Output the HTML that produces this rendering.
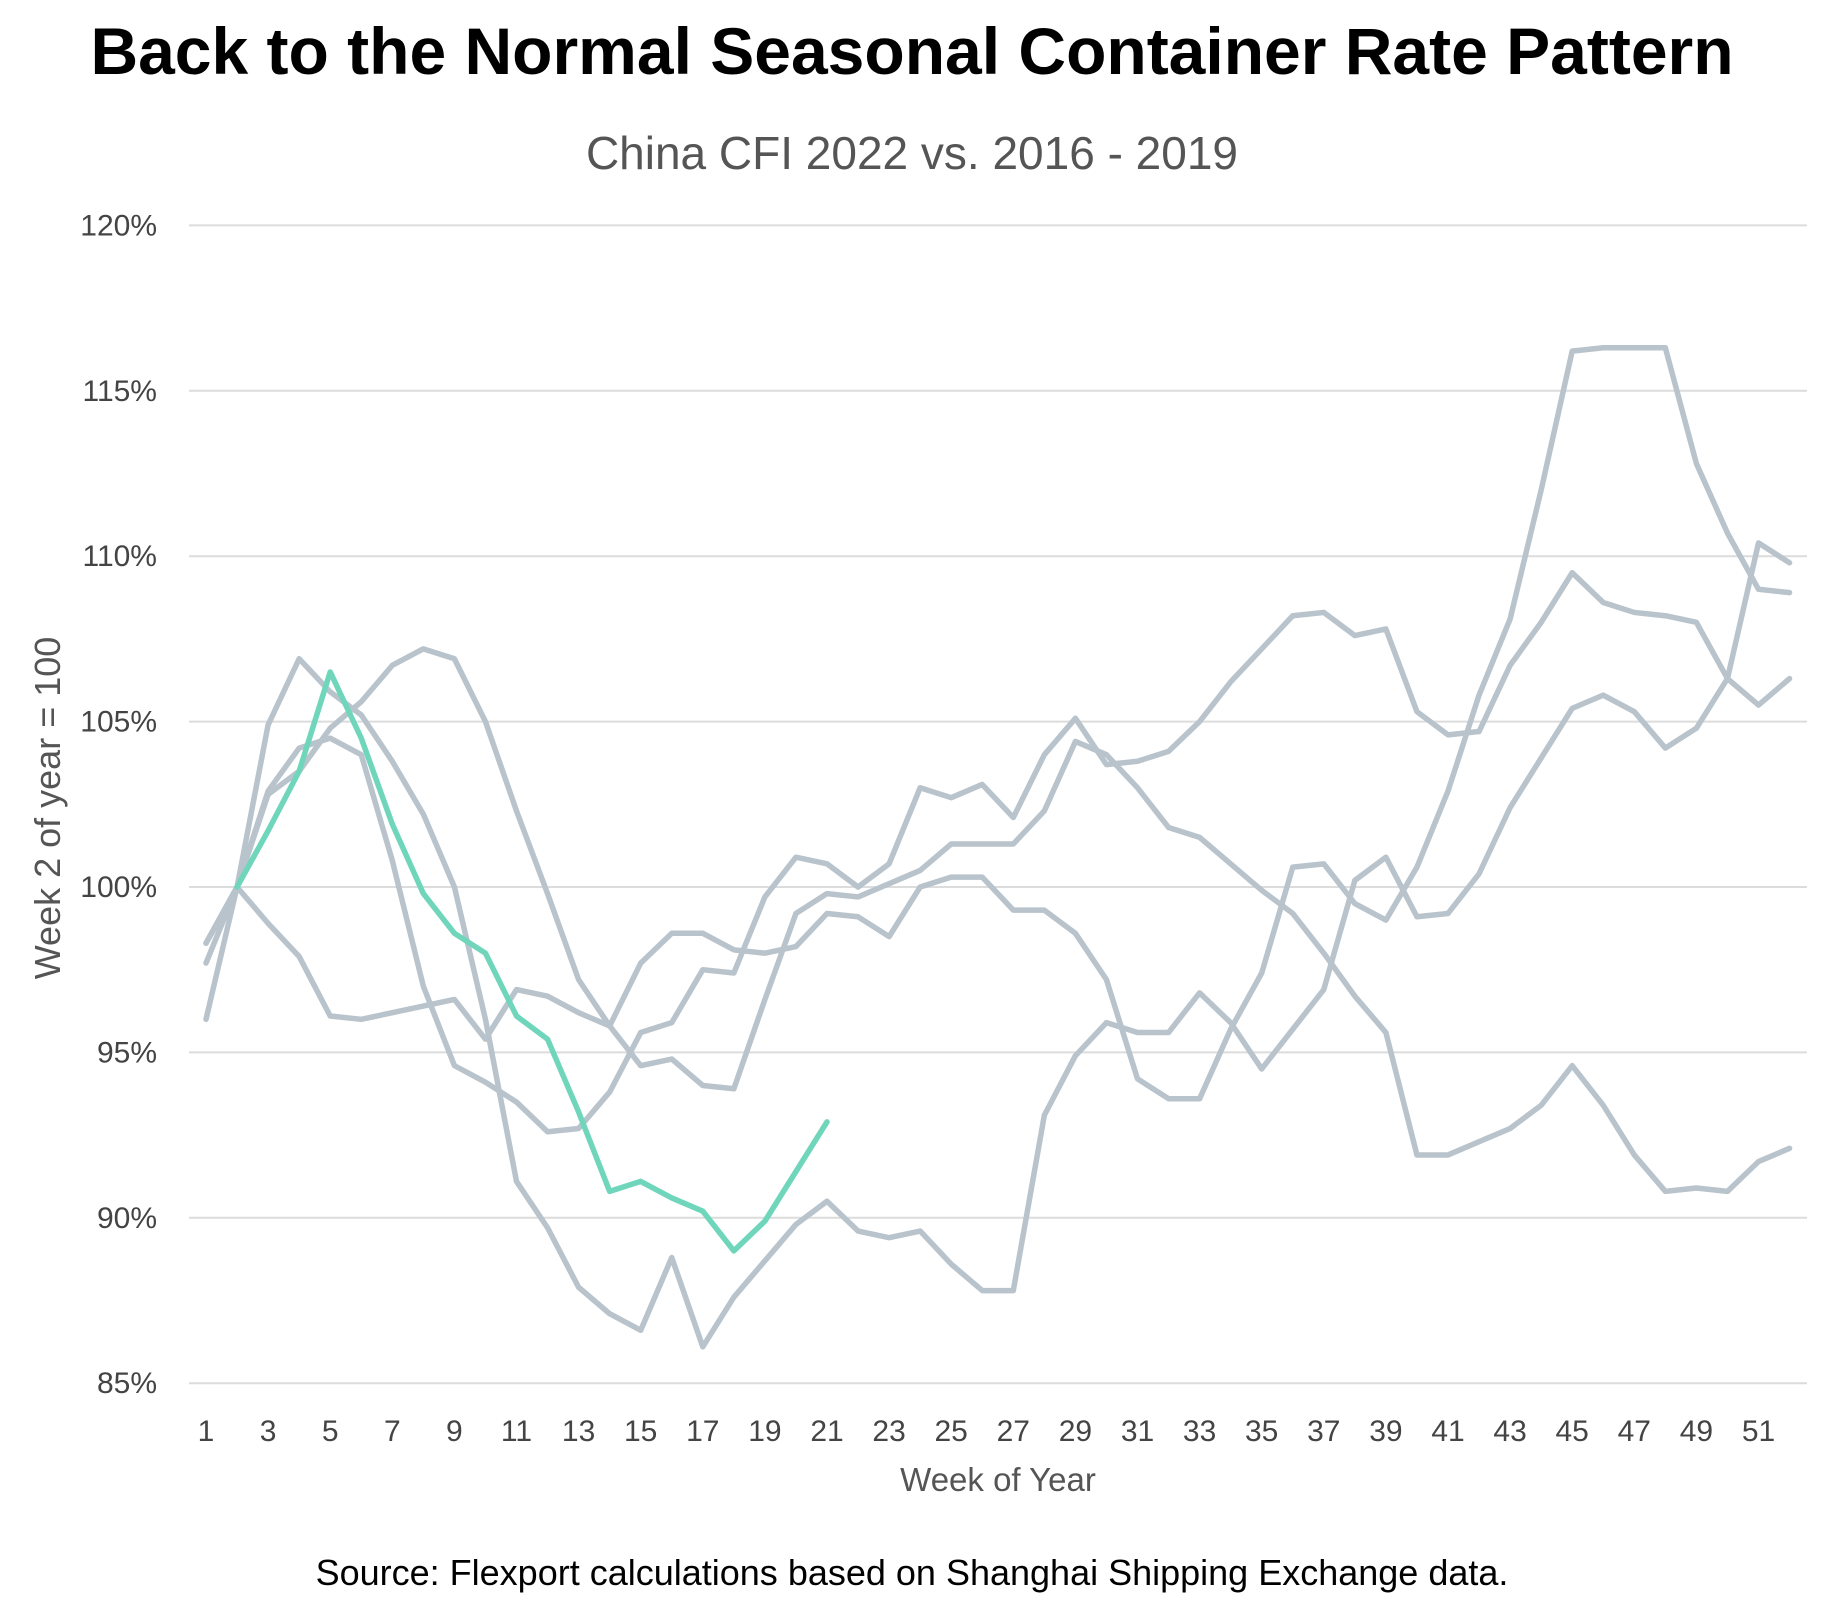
<!DOCTYPE html>
<html><head><meta charset="utf-8"><style>
html,body{margin:0;padding:0;background:#fff;}
svg{display:block;font-family:"Liberation Sans",sans-serif;}
</style></head><body>
<svg id="chart" width="1845" height="1598" viewBox="0 0 1845 1598" xmlns="http://www.w3.org/2000/svg">
<text x="912" y="74" text-anchor="middle" font-size="66" font-weight="bold" fill="#000">Back to the Normal Seasonal Container Rate Pattern</text>
<text x="912" y="169" text-anchor="middle" font-size="46" fill="#555">China CFI 2022 vs. 2016 - 2019</text>
<g id="grid"></g>
<g id="yticks"></g>
<g id="xticks"></g>
<g id="series"></g>
<text transform="translate(60,808) rotate(-90)" text-anchor="middle" font-size="36" fill="#555">Week 2 of year = 100</text>
<text x="998" y="1491" text-anchor="middle" font-size="33" fill="#555">Week of Year</text>
<text x="912" y="1585" text-anchor="middle" font-size="36" fill="#000">Source: Flexport calculations based on Shanghai Shipping Exchange data.</text>
</svg>
<script>
const yTicks = [85, 90, 95, 100, 105, 110, 115, 120];
const yTickLabels = ["85%", "90%", "95%", "100%", "105%", "110%", "115%", "120%"];
const xTickWeeks = [1,3,5,7,9,11,13,15,17,19,21,23,25,27,29,31,33,35,37,39,41,43,45,47,49,51];
const seriesA = [98.3,100,102.8,103.5,104.8,105.6,106.7,107.2,106.9,105,102.3,99.8,97.2,95.8,94.6,94.8,94,93.9,96.6,99.2,99.8,99.7,100.1,100.5,101.3,101.3,101.3,102.3,104.4,104,103,101.8,101.5,100.7,99.9,99.2,98,96.7,95.6,91.9,91.9,92.3,92.7,93.4,94.6,93.4,91.9,90.8,90.9,90.8,91.7,92.1];
const seriesB = [98.3,100,102.9,104.2,104.5,104,100.8,97,94.6,94.1,93.5,92.6,92.7,93.8,95.6,95.9,97.5,97.4,99.7,100.9,100.7,100,100.7,103,102.7,103.1,102.1,104,105.1,103.7,103.8,104.1,105,106.2,107.2,108.2,108.3,107.6,107.8,105.3,104.6,104.7,106.7,108,109.5,108.6,108.3,108.2,108,106.3,105.5,106.3];
const seriesC = [96,100,104.9,106.9,105.9,105.2,103.8,102.2,100,96,91.1,89.7,87.9,87.1,86.6,88.8,86.1,87.6,88.7,89.8,90.5,89.6,89.4,89.6,88.6,87.8,87.8,93.1,94.9,95.9,95.6,95.6,96.8,95.9,94.5,95.7,96.9,100.2,100.9,99.1,99.2,100.4,102.4,103.9,105.4,105.8,105.3,104.2,104.8,106.3,110.4,109.8];
const seriesD = [97.7,100,98.9,97.9,96.1,96,96.2,96.4,96.6,95.4,96.9,96.7,96.2,95.8,97.7,98.6,98.6,98.1,98,98.2,99.2,99.1,98.5,100,100.3,100.3,99.3,99.3,98.6,97.2,94.2,93.6,93.6,95.7,97.4,100.6,100.7,99.5,99,100.6,102.9,105.8,108.1,112,116.2,116.3,116.3,116.3,112.8,110.7,109,108.9];
const series2022Weeks = [2,3,4,5,6,7,8,9,10,11,12,13,14,15,16,17,18,19,20,21];
const series2022 = [100,101.7,103.5,106.5,104.5,101.9,99.8,98.6,98,96.1,95.4,93.2,90.8,91.1,90.6,90.2,89,89.9,91.4,92.9];

const NS = "http://www.w3.org/2000/svg";
const xScale = w => 206 + (w - 1) * 31.05;
const yScale = v => 887 - (v - 100) * 33.08;

const grid = document.getElementById('grid');
const yt = document.getElementById('yticks');
yTicks.forEach((t, i) => {
  const l = document.createElementNS(NS, 'line');
  
  
  l.setAttribute('x1', 189); l.setAttribute('x2', 1807);
  l.setAttribute('y1', yScale(t)); l.setAttribute('y2', yScale(t));
  l.setAttribute('stroke', '#dcdcdc'); l.setAttribute('stroke-width', 2);
  grid.appendChild(l);
  const tx = document.createElementNS(NS, 'text');
  
  
  tx.setAttribute('x', 157); tx.setAttribute('y', yScale(t) + 10);
  tx.setAttribute('text-anchor', 'end'); tx.setAttribute('font-size', 30); tx.setAttribute('fill', '#444');
  tx.textContent = yTickLabels[i];
  yt.appendChild(tx);
});
const xt = document.getElementById('xticks');
xTickWeeks.forEach(w => {
  const tx = document.createElementNS(NS, 'text');
  
  
  tx.setAttribute('x', xScale(w)); tx.setAttribute('y', 1441);
  tx.setAttribute('text-anchor', 'middle'); tx.setAttribute('font-size', 30); tx.setAttribute('fill', '#444');
  tx.textContent = w;
  xt.appendChild(tx);
});
const sg = document.getElementById('series');
function drawLine(weeks, vals, color, name) {
  const p = document.createElementNS(NS, 'polyline');
  
  
  p.setAttribute('points', vals.map((v, i) => xScale(weeks[i]) + ',' + yScale(v)).join(' '));
  p.setAttribute('fill', 'none'); p.setAttribute('stroke', color);
  p.setAttribute('stroke-width', 5.5); p.setAttribute('stroke-linejoin', 'round'); p.setAttribute('stroke-linecap', 'round');
  sg.appendChild(p);
}
const wk = seriesA.map((_, i) => i + 1);
drawLine(wk, seriesA, '#b8c3cc', 'line-year-a');
drawLine(wk, seriesB, '#b8c3cc', 'line-year-b');
drawLine(wk, seriesC, '#b8c3cc', 'line-year-c');
drawLine(wk, seriesD, '#b8c3cc', 'line-year-d');
drawLine(series2022Weeks, series2022, '#6fd6bb', 'line-2022');
</script>
</body></html>
